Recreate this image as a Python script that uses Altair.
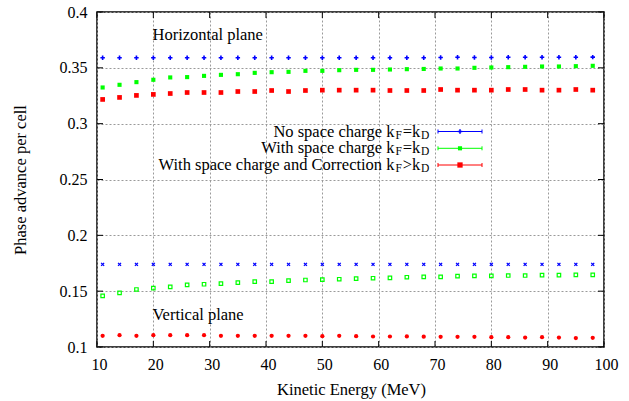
import altair as alt
import pandas as pd

# ---------------- data ----------------
energy = [11, 14, 17, 20, 23, 26, 29, 32, 35, 38, 41, 44, 47, 50, 53,
          56, 59, 62, 65, 68, 71, 74, 77, 80, 83, 86, 89, 92, 95, 98]

h_no_sc = [0.3590, 0.3590, 0.3590, 0.3590, 0.3590, 0.3590, 0.3590, 0.3590, 0.3590, 0.3590,
           0.3590, 0.3590, 0.3590, 0.3590, 0.3590, 0.3590, 0.3590, 0.3590, 0.3590, 0.3590,
           0.3593, 0.3595, 0.3593, 0.3593, 0.3595, 0.3595, 0.3595, 0.3595, 0.3595, 0.3596]
h_sc = [0.3324, 0.3348, 0.3372, 0.3393, 0.3414, 0.3417, 0.3428, 0.3437, 0.3443, 0.3455,
        0.3461, 0.3464, 0.3473, 0.3473, 0.3479, 0.3482, 0.3482, 0.3485, 0.3488, 0.3490,
        0.3494, 0.3494, 0.3500, 0.3503, 0.3506, 0.3509, 0.3512, 0.3512, 0.3515, 0.3518]
h_sc_corr = [0.3217, 0.3235, 0.3253, 0.3262, 0.3270, 0.3279, 0.3279, 0.3279, 0.3288, 0.3288,
             0.3297, 0.3288, 0.3297, 0.3300, 0.3300, 0.3300, 0.3300, 0.3297, 0.3297, 0.3297,
             0.3306, 0.3300, 0.3300, 0.3300, 0.3306, 0.3306, 0.3300, 0.3300, 0.3306, 0.3300]

v_no_sc = [0.1740, 0.1740, 0.1740, 0.1740, 0.1740, 0.1740, 0.1740, 0.1740, 0.1740, 0.1740,
           0.1740, 0.1740, 0.1740, 0.1740, 0.1740, 0.1740, 0.1740, 0.1740, 0.1740, 0.1740,
           0.1740, 0.1740, 0.1740, 0.1740, 0.1740, 0.1740, 0.1740, 0.1740, 0.1740, 0.1740]
v_sc = [0.1458, 0.1485, 0.1515, 0.1527, 0.1538, 0.1556, 0.1562, 0.1568, 0.1577, 0.1586,
        0.1586, 0.1595, 0.1600, 0.1604, 0.1607, 0.1613, 0.1616, 0.1619, 0.1625, 0.1628,
        0.1628, 0.1634, 0.1637, 0.1637, 0.1640, 0.1640, 0.1643, 0.1643, 0.1646, 0.1646]
v_sc_corr = [0.1100, 0.1106, 0.1100, 0.1106, 0.1106, 0.1106, 0.1106, 0.1100, 0.1100, 0.1100,
             0.1100, 0.1100, 0.1100, 0.1097, 0.1100, 0.1097, 0.1094, 0.1094, 0.1095, 0.1092,
             0.1091, 0.1091, 0.1091, 0.1088, 0.1088, 0.1085, 0.1088, 0.1085, 0.1080, 0.1082]

x_ticks = [10, 20, 30, 40, 50, 60, 70, 80, 90, 100]
y_ticks = [0.1, 0.15, 0.2, 0.25, 0.3, 0.35, 0.4]

legend_main = ["No space charge k", "With space charge k", "With space charge and Correction k"]
legend_rel = ["=k", "=k", ">k"]
legend_sub1 = ["F", "F", "F"]
legend_sub2 = ["D", "D", "D"]

# ---------------- styling ----------------
FONT = "Liberation Serif"
FS = 16        # tick labels
TFS = 16.5     # titles, annotations, key
SFS = 11.5     # subscripts
W, H = 507, 335
BLUE, GREEN, RED = "#0000ff", "#00ff00", "#ff0000"

xs = alt.Scale(domain=[10, 100], nice=False)
ys = alt.Scale(domain=[0.1, 0.4], nice=False)

PLUS = "M-1,0H1M0,-1V1"
XSHAPE = "M-1,-1L1,1M-1,1L1,-1"


def series(vals):
    return pd.DataFrame({"E": energy, "v": vals})


def pts(vals, color, shape, size, filled=True, sw=1.0):
    kw = dict(color=color, shape=shape, size=size, opacity=1)
    if filled:
        kw.update(filled=True)
    else:
        kw.update(filled=False, strokeWidth=sw)
    return alt.Chart(series(vals)).mark_point(**kw).encode(
        x=alt.X("E:Q", scale=xs,
                axis=alt.Axis(values=x_ticks, title="Kinetic Energy (MeV)", format="d",
                              titleX=W / 2 + 0.5, titleY=42, titleBaseline="middle")),
        y=alt.Y("v:Q", scale=ys,
                axis=alt.Axis(values=y_ticks, title="Phase advance per cell", format=".2~f",
                              titleX=-77, titleY=H / 2, titleBaseline="middle")),
    )


layers = [
    pts(h_no_sc, BLUE, PLUS, 20, filled=False, sw=1.6),
    pts(h_sc, GREEN, "square", 17),
    pts(h_sc_corr, RED, "square", 22),
    pts(v_no_sc, BLUE, XSHAPE, 9, filled=False, sw=1.3),
    pts(v_sc, GREEN, "square", 12, filled=False, sw=1.2),
    pts(v_sc_corr, RED, "circle", 18),
]

# inward ticks on all four sides (gnuplot style)
ytick_df = pd.DataFrame({"t": y_ticks})
xtick_df = pd.DataFrame({"t": x_ticks})
tick_layers = [
    alt.Chart(ytick_df).mark_rule(color="black", strokeWidth=1).encode(
        y=alt.Y("t:Q", scale=ys), x=alt.value(0), x2=alt.value(6)),
    alt.Chart(ytick_df).mark_rule(color="black", strokeWidth=1).encode(
        y=alt.Y("t:Q", scale=ys), x=alt.value(W - 6), x2=alt.value(W)),
    alt.Chart(xtick_df).mark_rule(color="black", strokeWidth=1).encode(
        x=alt.X("t:Q", scale=xs), y=alt.value(H - 6), y2=alt.value(H)),
    alt.Chart(xtick_df).mark_rule(color="black", strokeWidth=1).encode(
        x=alt.X("t:Q", scale=xs), y=alt.value(0), y2=alt.value(6)),
]

# plane annotations
annots = [
    alt.Chart(pd.DataFrame({"t": ["Horizontal plane"]})).mark_text(
        font=FONT, fontSize=TFS, align="left", baseline="middle", color="black").encode(
        text="t:N", x=alt.value(55.5), y=alt.value(23)),
    alt.Chart(pd.DataFrame({"t": ["Vertical plane"]})).mark_text(
        font=FONT, fontSize=TFS, align="left", baseline="middle", color="black").encode(
        text="t:N", x=alt.value(55.5), y=alt.value(303)),
]

# manual gnuplot-like key
ROW_Y = [119.5, 136.3, 153.0]
LINE_X0, LINE_X1, LINE_MID = 341, 385, 363
x_main = 297.5
x_sub1 = x_main + 1.0
x_rel = x_sub1 + 0.556 * SFS + 0.8
x_sub2 = x_rel + 1.064 * TFS + 0.8

colors = [BLUE, GREEN, RED]
key_layers = []
for i in range(3):
    y = ROW_Y[i]
    d = pd.DataFrame({"t": [legend_main[i]]})
    key_layers.append(alt.Chart(d).mark_text(font=FONT, fontSize=TFS, align="right",
                                             baseline="middle", color="black").encode(
        text="t:N", x=alt.value(x_main), y=alt.value(y)))
    d = pd.DataFrame({"t": [legend_sub1[i]]})
    key_layers.append(alt.Chart(d).mark_text(font=FONT, fontSize=SFS, align="left",
                                             baseline="middle", color="black").encode(
        text="t:N", x=alt.value(x_sub1), y=alt.value(y + 4)))
    d = pd.DataFrame({"t": [legend_rel[i]]})
    key_layers.append(alt.Chart(d).mark_text(font=FONT, fontSize=TFS, align="left",
                                             baseline="middle", color="black").encode(
        text="t:N", x=alt.value(x_rel), y=alt.value(y)))
    d = pd.DataFrame({"t": [legend_sub2[i]]})
    key_layers.append(alt.Chart(d).mark_text(font=FONT, fontSize=SFS, align="left",
                                             baseline="middle", color="black").encode(
        text="t:N", x=alt.value(x_sub2), y=alt.value(y + 4)))
    c = colors[i]
    base = alt.Chart(pd.DataFrame({"t": [legend_main[i]]}))
    key_layers.append(base.mark_rule(color=c, strokeWidth=1).encode(
        x=alt.value(LINE_X0), x2=alt.value(LINE_X1), y=alt.value(y)))
    key_layers.append(base.mark_rule(color=c, strokeWidth=1).encode(
        x=alt.value(LINE_X0), y=alt.value(y - 2), y2=alt.value(y + 2)))
    key_layers.append(base.mark_rule(color=c, strokeWidth=1).encode(
        x=alt.value(LINE_X1), y=alt.value(y - 2), y2=alt.value(y + 2)))
key_layers.append(alt.Chart(pd.DataFrame({"t": ["a"]})).mark_point(
    shape=PLUS, size=20, filled=False, strokeWidth=1.6, color=BLUE, opacity=1).encode(
    x=alt.value(LINE_MID), y=alt.value(ROW_Y[0])))
key_layers.append(alt.Chart(pd.DataFrame({"t": ["b"]})).mark_point(
    shape="square", size=17, filled=True, color=GREEN, opacity=1).encode(
    x=alt.value(LINE_MID), y=alt.value(ROW_Y[1])))
key_layers.append(alt.Chart(pd.DataFrame({"t": ["c"]})).mark_point(
    shape="square", size=28, filled=True, color=RED, opacity=1).encode(
    x=alt.value(LINE_MID), y=alt.value(ROW_Y[2])))

chart = alt.layer(*layers, *tick_layers, *annots, *key_layers).properties(
    width=W, height=H,
    autosize=alt.AutoSizeParams(type="none"),
    padding={"left": 97, "top": 12, "right": 25, "bottom": 54},
    background="white",
).configure_view(
    stroke="black", strokeWidth=1.5
).configure_axis(
    grid=True, gridColor="#9a9a9a", gridDash=[2, 2], gridWidth=1,
    domain=False, ticks=False, labelFlush=False, labelOverlap=False,
    labelFont=FONT, labelFontSize=FS, labelColor="black",
    titleFont=FONT, titleFontSize=TFS, titleFontWeight="normal", titleColor="black",
).configure_axisX(
    labelPadding=9, labelOffset=2
).configure_axisY(
    labelPadding=10
)

chart.save("out.html", embed_options={"renderer": "svg", "actions": False})
